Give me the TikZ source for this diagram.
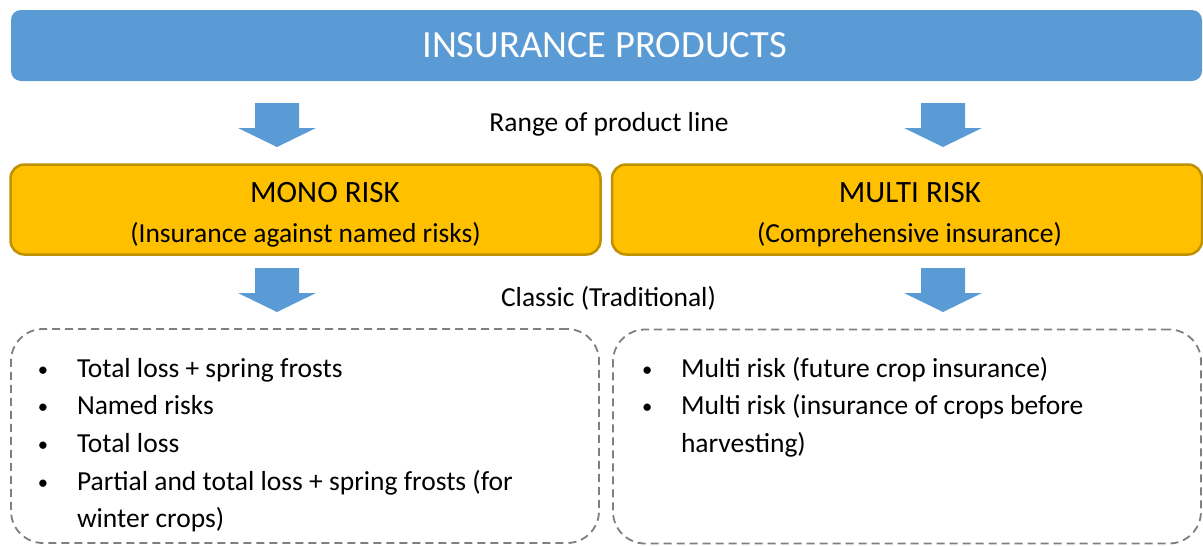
\documentclass[tikz,border=0pt]{standalone}
\usepackage{fontspec}
\setmainfont{Carlito}
\usetikzlibrary{positioning}

\definecolor{prodblue}{HTML}{5B9BD5}
\definecolor{riskgold}{HTML}{FFC000}
\definecolor{riskedge}{HTML}{BF9000}
\definecolor{dashgrey}{HTML}{7F7F7F}

\newcommand{\bodyfont}{\fontsize{27.5}{37.7}\selectfont}
\newcommand{\bitem}[1]{\par\hangindent=40pt\hangafter=1\noindent\makebox[40pt][l]{\hspace{1pt}\raisebox{1pt}{\scalebox{0.75}{\textbullet}}}#1}

\begin{document}
\begin{tikzpicture}[x=1pt,y=-1pt,
    every node/.style={inner sep=0pt,outer sep=0pt},
    titlebar/.style={fill=prodblue,rounded corners=10pt,minimum width=1191pt,minimum height=71pt},
    riskbox/.style={fill=riskgold,draw=riskedge,line width=2.5pt,rounded corners=14pt,minimum width=590pt,minimum height=90pt},
    listbox/.style={draw=dashgrey,line width=1.8pt,dash pattern=on 8pt off 5pt,rounded corners=32pt,minimum width=588pt,minimum height=214pt},
    txt/.style={font=\bodyfont,anchor=base},
    head/.style={font=\fontsize{31}{37}\selectfont,anchor=base},
    downarrow/.pic={\fill[prodblue] (-22,0) -- (22,0) -- (22,25) -- (39,25) -- (0,44) -- (-39,25) -- (-22,25) -- cycle;}]
  \useasboundingbox (0,0) rectangle (1203,546);

  \node[titlebar] (products) at (606.5,45.5) {};
  \node[font=\fontsize{38.5}{46}\selectfont,text=white,anchor=base] (productstxt) at (604.5,57) {INSURANCE PRODUCTS};

  \pic at (277,103) {downarrow};
  \pic at (943,103) {downarrow};
  \node[txt] (range) at (609,131) {Range of product line};

  \node[riskbox] (mono) at (305.5,209.5) {};
  \node[riskbox] (multi) at (907,209.5) {};
  \node[head] (monohead) at (325,202) {MONO RISK};
  \node[txt] (monosub) at (305.5,242) {(Insurance against named risks)};
  \node[head] (multihead) at (910,202) {MULTI RISK};
  \node[txt] (multisub) at (909.5,242) {(Comprehensive insurance)};

  \pic at (277,268) {downarrow};
  \pic at (943,268) {downarrow};
  \node[txt] (classic) at (608.5,306) {Classic (Traditional)};

  \node[listbox] (monoitems) at (305,436) {};
  \node[listbox] (multiitems) at (907,436.5) {};

  \node[anchor=base west] (monolist) at (37,377) {\begin{minipage}[t]{540pt}\bodyfont\raggedright
    \bitem{Total loss + spring frosts}
    \bitem{Named risks}
    \bitem{Total loss}
    \bitem{Partial and total loss + spring frosts (for\newline winter crops)}
  \end{minipage}};
  \node[anchor=base west] (multilist) at (641,377) {\begin{minipage}[t]{540pt}\bodyfont\raggedright
    \bitem{Multi risk (future crop insurance)}
    \bitem{Multi risk (insurance of crops before\newline harvesting)}
  \end{minipage}};
\end{tikzpicture}
\end{document}
